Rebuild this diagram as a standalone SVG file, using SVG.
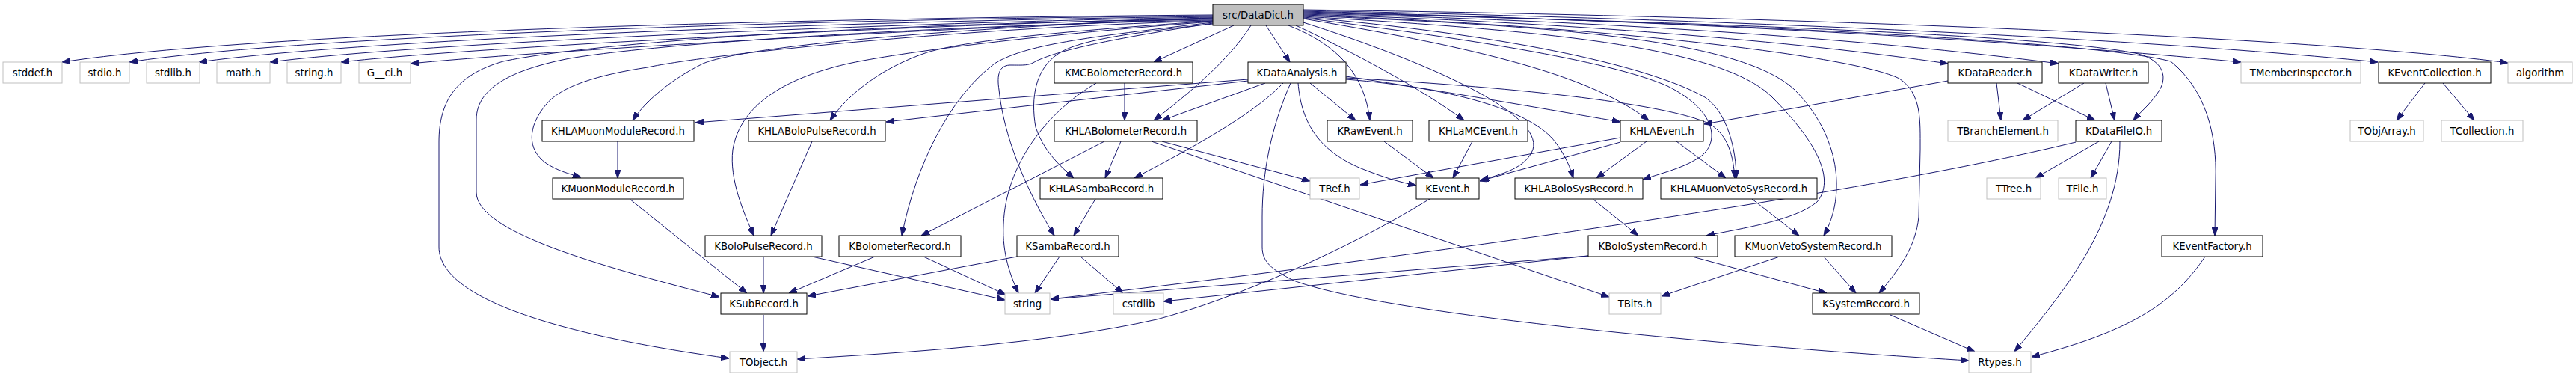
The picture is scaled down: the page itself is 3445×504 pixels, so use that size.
<svg xmlns="http://www.w3.org/2000/svg" width="3445" height="504" viewBox="0 0 3445 504">
<style>
.n rect{fill:#fff;stroke:#000;stroke-width:1}
.x rect{fill:#fff;stroke:#bfbfbf;stroke-width:1}
.r rect{fill:#bfbfbf;stroke:#000;stroke-width:1}
text{font-family:"DejaVu Sans","Liberation Sans",sans-serif;font-size:13.3px;fill:#000;text-anchor:middle}
.e path{fill:none;stroke:#191970;stroke-width:1;marker-end:url(#a)}
</style>
<defs>
<marker id="a" markerUnits="userSpaceOnUse" markerWidth="11" markerHeight="8" refX="11" refY="4" orient="auto"><path d="M0,0 L11,4 L0,8 z" fill="#191970" stroke="#191970" stroke-width="1"/></marker>
</defs>
<rect width="3445" height="504" fill="#fff"/>
<g id="connectors" class="e">
<path d="M1622,20 C1100,24 350,42 83,83"/>
<path d="M1622,21 C1150,25 420,45 173,83"/>
<path d="M1622,22 C1200,27 500,50 266,83"/>
<path d="M1622,23 C1250,29 580,55 361,83"/>
<path d="M1622,24 C1300,31 660,60 456,83"/>
<path d="M1622,25 C1350,33 740,66 549,85"/>
<path d="M1622,26 C1200,30 800,55 673,82 C610,100 587,135 587,190 L587,330 C587,410 800,455 975,479"/>
<path d="M1622,27 C1300,33 900,55 762,78 C690,92 637,115 637,160 L637,257 C637,310 800,355 962,397"/>
<path d="M1622,28 C1300,36 950,72 866,90 C800,100 750,115 730,140 C705,170 705,200 730,218 C745,228 760,232 777,237"/>
<path d="M1622,24 C1300,36 1000,60 940,85 C890,110 860,140 846,161"/>
<path d="M1622,28 C1450,40 1300,52 1240,70 C1180,90 1135,125 1110,161"/>
<path d="M1622,29 C1400,45 1200,70 1130,86 C1050,105 990,140 980,200 C975,240 995,285 1008,315"/>
<path d="M1622,30 C1450,50 1370,60 1330,85 C1270,130 1225,220 1206,315"/>
<path d="M1622,31 C1500,50 1420,65 1385,82 C1375,88 1370,87 1350,87 C1336,88 1333,100 1336,120 C1342,180 1370,250 1410,315"/>
<path d="M1622,32 C1500,45 1440,55 1415,72 C1385,92 1378,130 1385,170 C1395,200 1415,220 1436,238"/>
<path d="M1650,34 L1543,83"/>
<path d="M1673,34 C1650,70 1610,110 1543,161"/>
<path d="M1693,34 L1725,83"/>
<path d="M1723,34 C1790,60 1825,100 1832,161"/>
<path d="M1733,34 C1810,70 1900,118 1958,161"/>
<path d="M1743,30 C1900,80 2065,150 2050,200 C2040,225 2010,232 1980,241"/>
<path d="M1743,25 C1950,60 2120,95 2205,161"/>
<path d="M1743,24 C1950,50 2150,80 2230,115 C2300,150 2300,195 2270,212 C2250,225 2220,232 2197,240"/>
<path d="M1743,23 C2000,45 2200,85 2280,130 C2310,150 2322,200 2322,238"/>
<path d="M1743,22 C2050,40 2300,60 2370,130 C2430,190 2455,240 2430,270 C2400,295 2330,305 2282,315"/>
<path d="M1743,21 C2100,35 2330,55 2400,120 C2460,180 2470,260 2439,315"/>
<path d="M1743,20 C2150,35 2480,75 2540,105 C2570,125 2568,160 2568,200 L2566,290 C2562,330 2540,360 2513,392"/>
<path d="M1743,19 C2100,30 2400,55 2605,85"/>
<path d="M1743,18 C2150,28 2500,52 2753,85"/>
<path d="M1743,17 C2300,30 2750,48 2860,72 C2895,82 2900,105 2885,125 C2875,140 2862,150 2853,161"/>
<path d="M1743,16 C2300,30 2800,55 2903,82 C2950,120 2965,180 2963,240 L2962,315"/>
<path d="M1743,15 C2300,30 2700,55 2997,83"/>
<path d="M1743,14 C2400,28 2900,55 3180,83"/>
<path d="M1743,13 C2400,22 3100,50 3354,84"/>
<path d="M1669,106 L930,164"/>
<path d="M1669,108 L1185,163"/>
<path d="M1692,111 L1554,161"/>
<path d="M1716,111 C1680,150 1600,195 1517,238"/>
<path d="M1752,111 L1813,161"/>
<path d="M1736,111 C1740,160 1760,200 1820,225 C1850,237 1870,243 1894,248"/>
<path d="M1726,111 C1700,170 1688,230 1688,290 L1688,330 C1688,350 1700,360 1730,375 C1850,420 2300,462 2633,482"/>
<path d="M1800,102 C1950,125 2080,148 2167,163"/>
<path d="M1800,106 C1950,118 2050,150 2080,190 C2095,210 2100,225 2104,238"/>
<path d="M1800,104 C2050,118 2230,140 2285,165 C2312,180 2318,210 2320,238"/>
<path d="M1504,111 L1504,161"/>
<path d="M1466,111 C1400,150 1345,220 1342,300 C1340,340 1352,370 1362,392"/>
<path d="M826,189 L826,238"/>
<path d="M1086,189 L1031,315"/>
<path d="M1499,189 L1478,238"/>
<path d="M1477,189 L1232,315"/>
<path d="M1554,189 L1752,242"/>
<path d="M1540,189 L2152,397"/>
<path d="M1851,189 L1917,238"/>
<path d="M1969,189 L1943,238"/>
<path d="M2167,190 L1979,242"/>
<path d="M2167,184 L1819,247"/>
<path d="M2202,189 L2135,238"/>
<path d="M2242,189 L2308,238"/>
<path d="M2605,108 L2279,166"/>
<path d="M2670,111 L2676,161"/>
<path d="M2698,111 L2802,161"/>
<path d="M2787,111 L2705,161"/>
<path d="M2816,111 L2828,161"/>
<path d="M2807,189 L2722,238"/>
<path d="M2824,189 L2796,238"/>
<path d="M2776,190 C2550,245 2100,318 1405,400"/>
<path d="M2835,189 C2835,300 2760,390 2694,470"/>
<path d="M3243,111 L3205,161"/>
<path d="M3267,111 L3309,161"/>
<path d="M842,266 L999,392"/>
<path d="M1021,343 L1021,392"/>
<path d="M1086,343 L1344,401"/>
<path d="M1170,343 L1055,392"/>
<path d="M1235,343 L1345,394"/>
<path d="M1465,266 L1436,315"/>
<path d="M1360,343 L1080,396"/>
<path d="M1417,343 L1384,392"/>
<path d="M1445,343 L1502,392"/>
<path d="M1912,266 C1800,335 1650,400 1547,427 C1400,460 1200,472 1066,480"/>
<path d="M2130,266 L2191,315"/>
<path d="M2343,266 L2406,315"/>
<path d="M2124,342 L1405,400"/>
<path d="M2124,342 L1556,403"/>
<path d="M2263,343 L2443,392"/>
<path d="M2439,343 L2482,392"/>
<path d="M2380,343 L2222,396"/>
<path d="M2528,421 L2641,470"/>
<path d="M2949,343 C2910,400 2860,440 2717,477"/>
<path d="M1021,421 L1021,470"/>
</g>
<g id="DataDict" class="r"><rect x="1622" y="6" width="121" height="28"/><text x="1682.5" y="24.5">src/DataDict.h</text></g>
<g id="stddef" class="x"><rect x="4" y="83" width="79" height="28"/><text x="43.5" y="101.5">stddef.h</text></g>
<g id="stdio" class="x"><rect x="107" y="83" width="66" height="28"/><text x="140" y="101.5">stdio.h</text></g>
<g id="stdlib" class="x"><rect x="196" y="83" width="71" height="28"/><text x="231.5" y="101.5">stdlib.h</text></g>
<g id="math" class="x"><rect x="290" y="83" width="71" height="28"/><text x="325.5" y="101.5">math.h</text></g>
<g id="stringh" class="x"><rect x="384" y="83" width="72" height="28"/><text x="420" y="101.5">string.h</text></g>
<g id="Gci" class="x"><rect x="480" y="83" width="69" height="28"/><text x="514.5" y="101.5">G__ci.h</text></g>
<g id="KMCBolometerRecord" class="n"><rect x="1410" y="83" width="185" height="28"/><text x="1502.5" y="101.5">KMCBolometerRecord.h</text></g>
<g id="KDataAnalysis" class="n"><rect x="1669" y="83" width="131" height="28"/><text x="1734.5" y="101.5">KDataAnalysis.h</text></g>
<g id="KDataReader" class="n"><rect x="2605" y="83" width="126" height="28"/><text x="2668" y="101.5">KDataReader.h</text></g>
<g id="KDataWriter" class="n"><rect x="2753" y="83" width="120" height="28"/><text x="2813" y="101.5">KDataWriter.h</text></g>
<g id="TMemberInspector" class="x"><rect x="2997" y="83" width="160" height="28"/><text x="3077" y="101.5">TMemberInspector.h</text></g>
<g id="KEventCollection" class="n"><rect x="3181" y="83" width="150" height="28"/><text x="3256" y="101.5">KEventCollection.h</text></g>
<g id="algorithm" class="x"><rect x="3354" y="83" width="86" height="28"/><text x="3397" y="101.5">algorithm</text></g>
<g id="KHLAMuonModuleRecord" class="n"><rect x="725" y="161" width="203" height="28"/><text x="826.5" y="179.5">KHLAMuonModuleRecord.h</text></g>
<g id="KHLABoloPulseRecord" class="n"><rect x="1001" y="161" width="183" height="28"/><text x="1092.5" y="179.5">KHLABoloPulseRecord.h</text></g>
<g id="KHLABolometerRecord" class="n"><rect x="1410" y="161" width="191" height="28"/><text x="1505.5" y="179.5">KHLABolometerRecord.h</text></g>
<g id="KRawEvent" class="n"><rect x="1775" y="161" width="114" height="28"/><text x="1832" y="179.5">KRawEvent.h</text></g>
<g id="KHLaMCEvent" class="n"><rect x="1911" y="161" width="132" height="28"/><text x="1977" y="179.5">KHLaMCEvent.h</text></g>
<g id="KHLAEvent" class="n"><rect x="2167" y="161" width="111" height="28"/><text x="2222.5" y="179.5">KHLAEvent.h</text></g>
<g id="TBranchElement" class="x"><rect x="2605" y="161" width="147" height="28"/><text x="2678.5" y="179.5">TBranchElement.h</text></g>
<g id="KDataFileIO" class="n"><rect x="2776" y="161" width="115" height="28"/><text x="2833.5" y="179.5">KDataFileIO.h</text></g>
<g id="TObjArray" class="x"><rect x="3143" y="161" width="98" height="28"/><text x="3192" y="179.5">TObjArray.h</text></g>
<g id="TCollection" class="x"><rect x="3265" y="161" width="109" height="28"/><text x="3319.5" y="179.5">TCollection.h</text></g>
<g id="KMuonModuleRecord" class="n"><rect x="739" y="238" width="175" height="28"/><text x="826.5" y="256.5">KMuonModuleRecord.h</text></g>
<g id="KHLASambaRecord" class="n"><rect x="1391" y="238" width="164" height="28"/><text x="1473" y="256.5">KHLASambaRecord.h</text></g>
<g id="TRef" class="x"><rect x="1752" y="238" width="66" height="28"/><text x="1785" y="256.5">TRef.h</text></g>
<g id="KEvent" class="n"><rect x="1894" y="238" width="84" height="28"/><text x="1936" y="256.5">KEvent.h</text></g>
<g id="KHLABoloSysRecord" class="n"><rect x="2026" y="238" width="171" height="28"/><text x="2111.5" y="256.5">KHLABoloSysRecord.h</text></g>
<g id="KHLAMuonVetoSysRecord" class="n"><rect x="2221" y="238" width="209" height="28"/><text x="2325.5" y="256.5">KHLAMuonVetoSysRecord.h</text></g>
<g id="TTree" class="x"><rect x="2657" y="238" width="72" height="28"/><text x="2693" y="256.5">TTree.h</text></g>
<g id="TFile" class="x"><rect x="2753" y="238" width="64" height="28"/><text x="2785" y="256.5">TFile.h</text></g>
<g id="KBoloPulseRecord" class="n"><rect x="943" y="315" width="156" height="28"/><text x="1021" y="333.5">KBoloPulseRecord.h</text></g>
<g id="KBolometerRecord" class="n"><rect x="1122" y="315" width="163" height="28"/><text x="1203.5" y="333.5">KBolometerRecord.h</text></g>
<g id="KSambaRecord" class="n"><rect x="1360" y="315" width="136" height="28"/><text x="1428" y="333.5">KSambaRecord.h</text></g>
<g id="KBoloSystemRecord" class="n"><rect x="2124" y="315" width="173" height="28"/><text x="2210.5" y="333.5">KBoloSystemRecord.h</text></g>
<g id="KMuonVetoSystemRecord" class="n"><rect x="2320" y="315" width="210" height="28"/><text x="2425" y="333.5">KMuonVetoSystemRecord.h</text></g>
<g id="KEventFactory" class="n"><rect x="2891" y="315" width="135" height="28"/><text x="2958.5" y="333.5">KEventFactory.h</text></g>
<g id="KSubRecord" class="n"><rect x="964" y="392" width="115" height="28"/><text x="1021.5" y="410.5">KSubRecord.h</text></g>
<g id="string" class="x"><rect x="1344" y="392" width="60" height="28"/><text x="1374" y="410.5">string</text></g>
<g id="cstdlib" class="x"><rect x="1489" y="392" width="67" height="28"/><text x="1522.5" y="410.5">cstdlib</text></g>
<g id="TBits" class="x"><rect x="2152" y="392" width="69" height="28"/><text x="2186.5" y="410.5">TBits.h</text></g>
<g id="KSystemRecord" class="n"><rect x="2424" y="392" width="143" height="28"/><text x="2495.5" y="410.5">KSystemRecord.h</text></g>
<g id="TObject" class="x"><rect x="976" y="470" width="90" height="28"/><text x="1021" y="488.5">TObject.h</text></g>
<g id="Rtypes" class="x"><rect x="2633" y="470" width="83" height="28"/><text x="2674.5" y="488.5">Rtypes.h</text></g>
</svg>
